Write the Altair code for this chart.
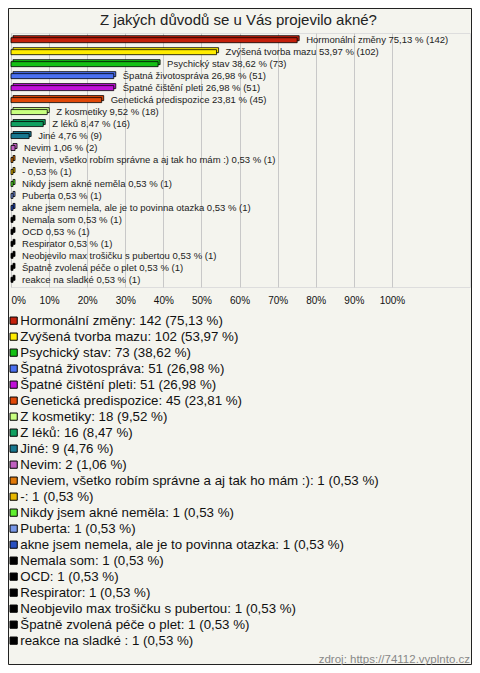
import altair as alt
import pandas as pd

names = [
    "Hormonální změny", "Zvýšená tvorba mazu", "Psychický stav", "Špatná životospráva",
    "Špatné čištění pleti", "Genetická predispozice", "Z kosmetiky", "Z léků", "Jiné",
    "Nevim", "Neviem, všetko robím správne a aj tak ho mám :)", "-", "Nikdy jsem akné neměla",
    "Puberta", "akne jsem nemela, ale je to povinna otazka", "Nemala som", "OCD", "Respirator",
    "Neobjevilo max trošičku s pubertou", "Špatně zvolená péče o plet", "reakce na sladké ",
]
counts = [142, 102, 73, 51, 51, 45, 18, 16, 9, 2, 1, 1, 1, 1, 1, 1, 1, 1, 1, 1, 1]
percents = [75.13, 53.97, 38.62, 26.98, 26.98, 23.81, 9.52, 8.47, 4.76, 1.06,
            0.53, 0.53, 0.53, 0.53, 0.53, 0.53, 0.53, 0.53, 0.53, 0.53, 0.53]
colors = ["#c4200c", "#ffec00", "#14c014", "#4a70f0", "#c010d8", "#e04808", "#c8ff80",
          "#10a060", "#187890", "#c060c0", "#e07808", "#e8b800", "#60f030", "#7898e8",
          "#2850c0", "#000000", "#000000", "#000000", "#000000", "#000000", "#000000"]
tick_values = [0, 10, 20, 30, 40, 50, 60, 70, 80, 90, 100]
title_text = "Z jakých důvodů se u Vás projevilo akné?"
source_text = "zdroj: https://74112.vyplnto.cz"

def fmt(p):
    return f"{p:.2f}".replace(".", ",")

df = pd.DataFrame({
    "name": names,
    "count": counts,
    "pct": percents,
    "bar_label": [f"{n} {fmt(p)} % ({c})" for n, c, p in zip(names, counts, percents)],
    "legend_label": [f"{n}: {c} ({fmt(p)} %)" for n, c, p in zip(names, counts, percents)],
})

FONT = "Liberation Sans"
W, H = 459, 254

x_scale = alt.Scale(domain=[0, 120.5], nice=False, zero=True)
y_scale = alt.Scale(domain=names, paddingInner=0, paddingOuter=0.1)
color_scale = alt.Scale(domain=list(df["legend_label"]), range=colors)

x_enc = alt.X("pct:Q", scale=x_scale,
              axis=alt.Axis(values=tick_values, labelExpr="datum.value + '%'",
                            title=None, ticks=False, domain=False, grid=True,
                            gridColor="#c8c8c8", labelFont=FONT, labelFontSize=10,
                            labelColor="#111", labelPadding=8))
y_enc = alt.Y("name:N", scale=y_scale, sort=names, axis=None)
legend = alt.Legend(title=None, orient="none", legendX=-4, legendY=281,
                    symbolType="square", symbolSize=52,
                    symbolStrokeColor="#000", symbolStrokeWidth=1, symbolOpacity=1,
                    labelFont=FONT, labelFontSize=13.3, labelColor="#111",
                    labelLimit=470, labelOffset=0, rowPadding=2, padding=0, columns=1)
color_enc = alt.Color("legend_label:N", scale=color_scale, legend=legend, sort=None)

base = alt.Chart(df)
one = base.transform_filter("datum.count == 142")

back = base.mark_bar(size=5, xOffset=2, yOffset=-2, stroke="#000", strokeWidth=0.8,
                     opacity=1).encode(x=x_enc, y=y_enc, color=color_enc)

front = base.mark_bar(size=5, stroke="#000", strokeWidth=0.8, opacity=1).encode(
    x=x_enc, y=y_enc, color=color_enc)

labels = base.mark_text(align="left", baseline="middle", dx=9, font=FONT, fontSize=9.5,
                        color="#222").encode(x=x_enc, y=y_enc, text="bar_label:N")

frame = one.mark_rect(fill=None, stroke="#222", strokeWidth=1).encode(
    x=alt.value(-2.5), x2=alt.value(460.5), y=alt.value(-24.5), y2=alt.value(631.5))

title = one.mark_text(align="center", baseline="middle", font=FONT, fontSize=15,
                      color="#222").encode(
    x=alt.value(W / 2 - 2), y=alt.value(-13), text=alt.value(title_text))

source = one.mark_text(align="right", baseline="middle", font=FONT, fontSize=11.5,
                       color="#888").encode(
    x=alt.value(459), y=alt.value(627), text=alt.value(source_text))

chart = alt.layer(back, front, labels, frame, title, source).properties(
    width=W, height=H,
    autosize=alt.AutoSizeParams(type="none"),
    padding={"left": 3, "top": 25, "right": 2, "bottom": 378},
).configure_view(stroke="#000", fill="white").configure(background="#f4f4ee")

chart.save("out.html", embed_options={"renderer": "svg", "actions": False})
